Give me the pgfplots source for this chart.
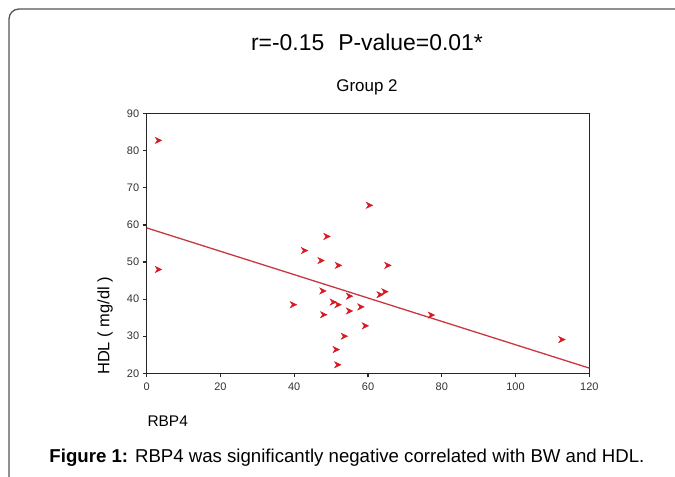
\documentclass[border=0pt]{standalone}
\usepackage{fontspec}
\setmainfont{Liberation Sans}
\usepackage{pgfplots}
\pgfplotsset{compat=1.18}

\definecolor{markred}{RGB}{215,25,35}
\definecolor{fitred}{RGB}{200,55,65}
\definecolor{framegray}{RGB}{85,85,85}
\definecolor{tickgray}{RGB}{50,50,50}

% SPSS-like arrow marker
\pgfdeclareplotmark{spssarrow}{%
  \pgfpathmoveto{\pgfqpoint{3.5bp}{0bp}}%
  \pgfpathlineto{\pgfqpoint{-2.8bp}{3bp}}%
  \pgfpathlineto{\pgfqpoint{-0.8bp}{0bp}}%
  \pgfpathlineto{\pgfqpoint{-2.8bp}{-3bp}}%
  \pgfpathclose
  \pgfusepathqfillstroke
}

\begin{document}
\begin{tikzpicture}
\path[use as bounding box] (0bp,0bp) rectangle (675bp,477bp);
% frame, open at right and bottom
\draw[framegray, line width=1.3bp, rounded corners=10bp] (9bp,-5bp) -- (9bp,468bp) -- (690bp,468bp);

\node at (367bp,435bp) {\fontsize{23}{25}\selectfont r=-0.15\hspace{14bp}P-value=0.01*};
\node at (367bp,390bp) {\fontsize{17}{19}\selectfont Group 2};

\begin{axis}[
    at={(146.7bp,103.7bp)}, anchor=south west,
    width=442.6bp, height=259.6bp, scale only axis,
    xmin=0, xmax=120, ymin=20, ymax=90,
    xtick={0,20,...,120}, ytick={20,30,...,90},
    tick align=outside, major tick length=4bp,
    axis line style={line width=1.4bp, black!85},
    every tick/.style={line width=1.2bp, black!85},
    xtick pos=bottom, ytick pos=left,
    /pgf/number format/assume math mode=true,
    ticklabel style={font=\fontsize{11}{11}\selectfont, text=tickgray},
    xticklabel style={yshift=-2bp},
    clip=false]
  \addplot[fitred, line width=1.3bp, no marks] coordinates {(0,59.2) (120,21.4)};
  \addplot[only marks, mark=spssarrow, mark options={markred, line width=0.5bp}] coordinates {
    (3.1,82.8) (3.1,48.0) (39.7,38.5) (42.7,53.1) (47.2,50.4) (47.7,42.2)
    (47.9,35.8) (48.8,56.9) (50.5,39.2) (51.8,38.5) (51.3,26.4) (51.7,22.3)
    (51.9,49.1) (53.5,30.0) (54.9,40.8) (54.9,36.8) (58.0,37.9) (59.2,32.8)
    (60.3,65.3) (63.2,41.2) (64.5,42.0) (65.3,49.1) (77.1,35.7) (112.5,29.1)
  };
\end{axis}

\node[rotate=90] at (105bp,151bp) {\fontsize{16.5}{18}\selectfont HDL ( mg/dl )};
\node[anchor=west] at (144bp,56bp) {\fontsize{15.5}{17}\selectfont RBP4};
\node at (347bp,19bp) {\fontsize{18.7}{21}\selectfont\textbf{Figure 1:} RBP4 was significantly negative correlated with BW and HDL.};
\end{tikzpicture}
\end{document}
